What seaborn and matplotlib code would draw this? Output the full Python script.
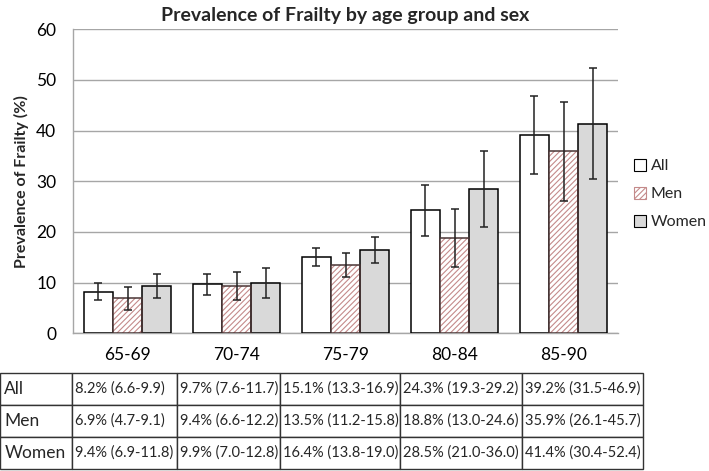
import matplotlib
matplotlib.use("Agg")
import matplotlib.pyplot as plt
import seaborn as sns
import pandas as pd
from matplotlib.patches import Rectangle, Patch

age_groups = ['65-69', '70-74', '75-79', '80-84', '85-90']
sexes = ['All', 'Men', 'Women']

all_val = [8.2, 9.7, 15.1, 24.3, 39.2]
all_lo = [6.6, 7.6, 13.3, 19.3, 31.5]
all_hi = [9.9, 11.7, 16.9, 29.2, 46.9]

men_val = [6.9, 9.4, 13.5, 18.8, 35.9]
men_lo = [4.7, 6.6, 11.2, 13.0, 26.1]
men_hi = [9.1, 12.2, 15.8, 24.6, 45.7]

women_val = [9.4, 9.9, 16.4, 28.5, 41.4]
women_lo = [6.9, 7.0, 13.8, 21.0, 30.4]
women_hi = [11.8, 12.8, 19.0, 36.0, 52.4]

vals = [all_val, men_val, women_val]
los = [all_lo, men_lo, women_lo]
his = [all_hi, men_hi, women_hi]

rows = []
for s, v in zip(sexes, vals):
    for a, x in zip(age_groups, v):
        rows.append({'age': a, 'sex': s, 'prev': x})
df = pd.DataFrame(rows)

sns.set_theme(style='white')
plt.rcParams['font.family'] = ['Lato', 'DejaVu Sans']
plt.rcParams['hatch.linewidth'] = 0.8

fig = plt.figure(figsize=(7.09, 4.71), dpi=100)
ax = fig.add_axes([0.103, 0.2923, 0.7687, 0.6455])

fill_colors = {'All': '#ffffff', 'Men': '#ffffff', 'Women': '#d9d9d9'}
sns.barplot(data=df, x='age', y='prev', hue='sex', order=age_groups,
            hue_order=sexes, palette=fill_colors, width=0.8, ax=ax,
            errorbar=None, edgecolor='black', linewidth=1.1, saturation=1,
            legend=False, zorder=3)

hatch_col = '#c48a8a'
men_edge = '#4a3535'
for p in ax.containers[1]:
    p.set_hatch('//////')
    p.set_edgecolor(hatch_col)
    p.set_linewidth(0)
    r = Rectangle(p.get_xy(), p.get_width(), p.get_height(), fill=False,
                  edgecolor=men_edge, linewidth=1.1, zorder=3.5)
    ax.add_patch(r)

for i, cont in enumerate(ax.containers[:3]):
    xs = [p.get_x() + p.get_width() / 2 for p in cont]
    v = vals[i]
    yerr = [[a - b for a, b in zip(v, los[i])], [b - a for a, b in zip(v, his[i])]]
    ax.errorbar(xs, v, yerr=yerr, fmt='none', ecolor='#222222',
                elinewidth=1.1, capsize=3, capthick=1.1, zorder=4)

ax.set_xlim(-0.5, len(age_groups) - 0.5)
ax.set_ylim(0, 60)
ax.set_yticks(range(0, 61, 10))
ax.grid(axis='y', color='#a6a6a6', linewidth=1.0, zorder=0)
ax.set_axisbelow(True)
for s in ['top', 'right']:
    ax.spines[s].set_visible(False)
for s in ['left', 'bottom']:
    ax.spines[s].set_color('#a6a6a6')
    ax.spines[s].set_linewidth(1.0)
ax.tick_params(axis='both', length=0, labelsize=12.5, colors='black')
ax.tick_params(axis='x', pad=10)
ax.tick_params(axis='y', pad=12)
ax.set_xlabel('')
ax.set_ylabel('Prevalence of Frailty (%)', fontsize=11.5, fontweight='bold', labelpad=5)
ax.set_title('Prevalence of Frailty by age group and sex', fontsize=14,
             fontweight='bold', pad=6)

handles = [Patch(facecolor='white', edgecolor='black', linewidth=0.8),
           Patch(facecolor='white', edgecolor=hatch_col, hatch='//////', linewidth=0.8),
           Patch(facecolor='#d9d9d9', edgecolor='black', linewidth=0.8)]
fig.legend(handles, sexes, loc='center left', bbox_to_anchor=(0.894, 0.588),
           frameon=False, fontsize=11.5, handlelength=0.75, handleheight=0.75,
           handletextpad=0.3, labelspacing=0.85, borderpad=0, borderaxespad=0)

# table
tax = fig.add_axes([0.0, 0.00425, 0.9069, 0.2038])
tax.axis('off')
cell_text = []
for s, v, lo, hi in zip(sexes, vals, los, his):
    cell_text.append([s] + [f'{a}% ({b}-{c})' for a, b, c in zip(v, lo, hi)])
col_w = [72, 105, 103, 120, 122, 121]
tot = sum(col_w)
tbl = tax.table(cellText=cell_text, colWidths=[c / tot for c in col_w],
                cellLoc='left', bbox=[0, 0, 1, 1])
tbl.auto_set_font_size(False)
for (r, c), cell in tbl.get_celld().items():
    cell.set_edgecolor('#333333')
    cell.set_linewidth(1.0)
    cell.PAD = 0.025 if c > 0 else 0.06
    cell.get_text().set_fontsize(12.5 if c == 0 else 10.5)
    cell.get_text().set_family(['Lato', 'DejaVu Sans'])

fig.savefig('out.png', dpi=100)
